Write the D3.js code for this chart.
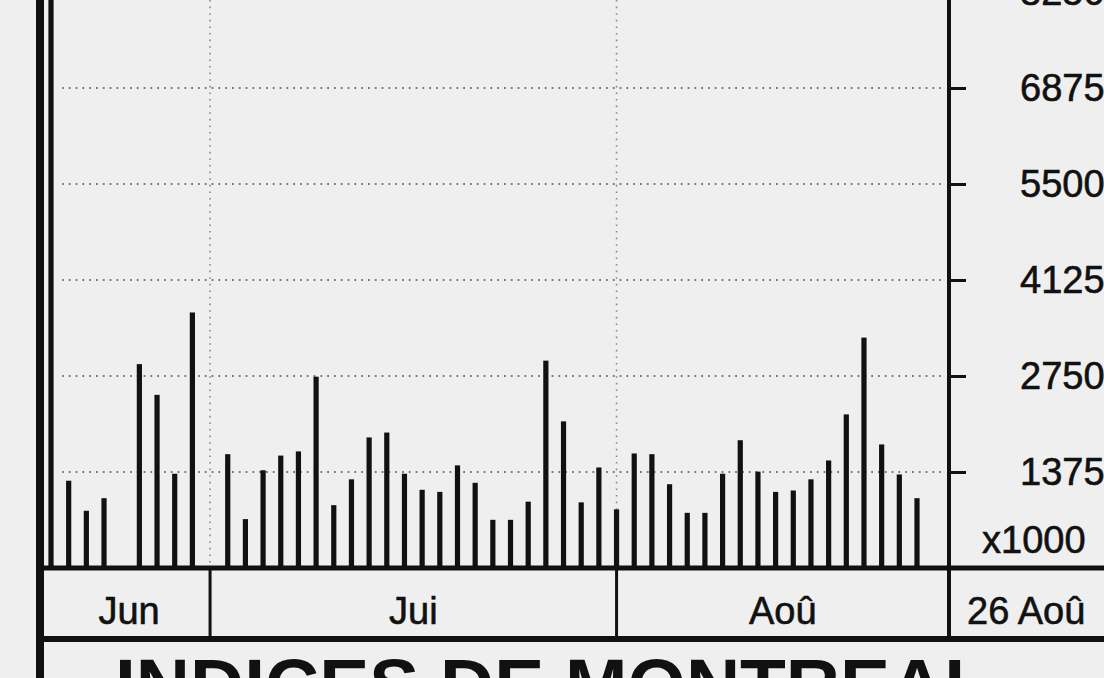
<!DOCTYPE html>
<html>
<head>
<meta charset="utf-8">
<script src="https://cdn.jsdelivr.net/npm/d3@7"></script>
<style>
  body { margin: 0; background: #efefef; }
  svg { display: block; }
</style>
</head>
<body>
<div class="volume_chart"></div>
<script>
// Trading day slots (null = market closed)
var days = ["Jun 18", "Jun 19", "Jun 20", "Jun 21", "Jun 24", "Jun 25", "Jun 26", "Jun 27", "Jun 28",
  "Jul 1", "Jul 2", "Jul 3", "Jul 4", "Jul 5", "Jul 8", "Jul 9", "Jul 10", "Jul 11", "Jul 12",
  "Jul 15", "Jul 16", "Jul 17", "Jul 18", "Jul 19", "Jul 22", "Jul 23", "Jul 24", "Jul 25", "Jul 26",
  "Jul 29", "Jul 30", "Jul 31",
  "Aug 1", "Aug 2", "Aug 5", "Aug 6", "Aug 7", "Aug 8", "Aug 9", "Aug 12", "Aug 13", "Aug 14",
  "Aug 15", "Aug 16", "Aug 19", "Aug 20", "Aug 21", "Aug 22", "Aug 23", "Aug 26"];

// Volume, thousands of shares
var volumes = [8800, 1250, 820, 1000, null, 2920, 2480, 1350, 3660,
  null, 1630, 700, 1400, 1610, 1670, 2740, 900, 1270, 1870,
  1940, 1350, 1120, 1090, 1470, 1220, 690, 690, 950, 2970,
  2100, 940, 1440,
  840, 1640, 1630, 1200, 790, 790, 1350, 1830, 1380, 1090,
  1110, 1270, 1540, 2200, 3300, 1770, 1340, 1000];

var tickValues = [1375, 2750, 4125, 5500, 6875, 8250];
var monthLabels = ["Jun", "Jui", "Aoû"];
var monthStarts = ["Jul 1", "Aug 1"];
var lastDayLabel = "26 Aoû";
var unitLabel = "x1000";
var titleText = "INDICES DE MONTREAL";

var width = 1104, height = 678;
var frameLeft = 40, axisX = 949, baseY = 568, bandBottom = 639;
var font = "'Liberation Sans', Arial, Helvetica, sans-serif";
var ink = "#111111";

function createChart() {

  var svg = d3.select(".volume_chart")
    .append("svg")
    .attr("width", width)
    .attr("height", height);

  svg.append("rect")
    .attr("width", width)
    .attr("height", height)
    .attr("fill", "#efefef");

  // Scales
  var x = d3.scalePoint()
    .domain(days)
    .range([51, 917]);

  var y = d3.scaleLinear()
    .domain([0, 8250])
    .range([baseY, -8]);

  // Dotted horizontal grid
  svg.append("g")
    .selectAll("line")
    .data(tickValues)
    .enter().append("line")
      .attr("x1", 62)
      .attr("x2", axisX - 4)
      .attr("y1", d => y(d))
      .attr("y2", d => y(d))
      .attr("stroke", "#777")
      .attr("stroke-width", 1.8)
      .attr("stroke-dasharray", "1.8,5");

  // Dotted vertical grid at month starts
  svg.append("g")
    .selectAll("line")
    .data(monthStarts)
    .enter().append("line")
      .attr("x1", d => x(d))
      .attr("x2", d => x(d))
      .attr("y1", 0)
      .attr("y2", baseY)
      .attr("stroke", "#888")
      .attr("stroke-width", 1.6)
      .attr("stroke-dasharray", "1.6,5");

  // Bars
  var bars = days.map((d, i) => ({day: d, value: volumes[i]}))
    .filter(d => d.value != null);

  svg.append("g")
    .selectAll("rect")
    .data(bars)
    .enter().append("rect")
      .attr("x", d => x(d.day) - 2.6)
      .attr("width", 5.2)
      .attr("y", d => y(d.value))
      .attr("height", d => y(0) - y(d.value))
      .attr("fill", ink);

  // Right axis
  svg.append("g")
    .attr("transform", "translate(" + axisX + ",0)")
    .style("font", "38px " + font)
    .call(d3.axisRight(y)
      .tickValues(tickValues)
      .tickSize(17)
      .tickPadding(54)
      .tickFormat(d3.format("d")))
    .call(g => g.select(".domain").remove())
    .call(g => g.selectAll(".tick line")
      .attr("stroke", ink)
      .attr("stroke-width", 3))
    .call(g => g.selectAll(".tick text")
      .attr("fill", ink)
      .attr("stroke", ink)
      .attr("stroke-width", 0.6));

  svg.append("text")
    .attr("x", 982)
    .attr("y", 553)
    .style("font", "38px " + font)
    .attr("fill", ink)
    .attr("stroke", ink)
    .attr("stroke-width", 0.6)
    .text(unitLabel);

  // Frame lines
  var frame = svg.append("g")
    .attr("stroke", ink)
    .attr("fill", "none");

  frame.append("line")
    .attr("x1", axisX).attr("x2", axisX)
    .attr("y1", 0).attr("y2", bandBottom)
    .attr("stroke-width", 4);

  frame.append("line")
    .attr("x1", frameLeft).attr("x2", width)
    .attr("y1", baseY).attr("y2", baseY)
    .attr("stroke-width", 5);

  frame.append("line")
    .attr("x1", frameLeft).attr("x2", width)
    .attr("y1", bandBottom).attr("y2", bandBottom)
    .attr("stroke-width", 6);

  frame.append("line")
    .attr("x1", frameLeft).attr("x2", frameLeft)
    .attr("y1", 0).attr("y2", height)
    .attr("stroke-width", 8);

  // Month band
  var edges = [frameLeft].concat(monthStarts.map(d => x(d)), [axisX]);

  frame.selectAll(".sep")
    .data(monthStarts)
    .enter().append("line")
      .attr("class", "sep")
      .attr("x1", d => x(d)).attr("x2", d => x(d))
      .attr("y1", baseY).attr("y2", bandBottom)
      .attr("stroke-width", 3);

  svg.append("g")
    .selectAll("text")
    .data(monthLabels)
    .enter().append("text")
      .attr("x", (d, i) => (edges[i] + edges[i + 1]) / 2 + (i === 0 ? 4 : 0))
      .attr("y", 624)
      .style("font", "38px " + font)
      .style("text-anchor", "middle")
      .attr("fill", ink)
      .attr("stroke", ink)
      .attr("stroke-width", 0.6)
      .text(d => d);

  svg.append("text")
    .attr("x", 967)
    .attr("y", 624)
    .style("font", "38px " + font)
    .attr("fill", ink)
    .attr("stroke", ink)
    .attr("stroke-width", 0.6)
    .text(lastDayLabel);

  // Title (cut off by the page edge, as in the scan)
  svg.append("text")
    .attr("x", 115)
    .attr("y", 711)
    .style("font", "bold 75px " + font)
    .attr("fill", ink)
    .text(titleText);
}

createChart();
</script>
</body>
</html>
